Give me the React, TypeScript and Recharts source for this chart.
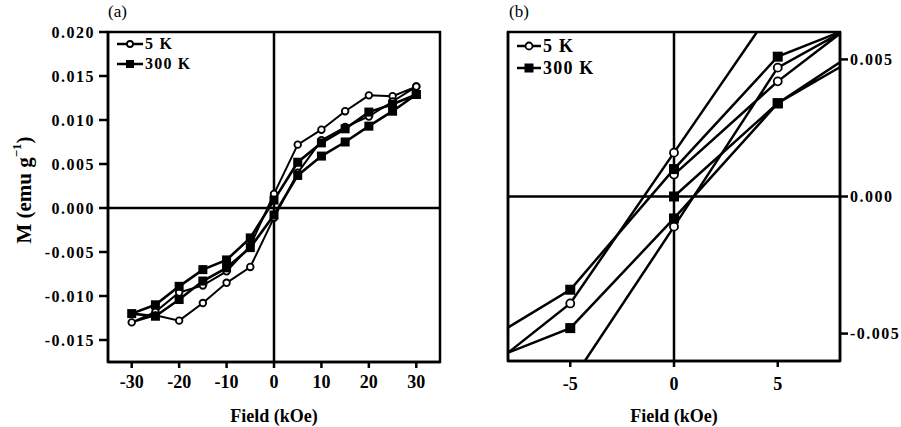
import React from "react";
import {
  LineChart,
  Line,
  XAxis,
  YAxis,
  ReferenceArea,
  ReferenceLine,
  Legend,
} from "recharts";

const FONT = '"Liberation Serif", "Times New Roman", serif';

// panel (a): full loop, field in kOe, M in emu/g
const fieldA = [30, 25, 20, 15, 10, 5, 0, -5, -10, -15, -20, -25, -30, -25, -20, -15, -10, -5, 0, 5, 10, 15, 20, 25, 30];
const m5KA = [0.0138, 0.0127, 0.0128, 0.011, 0.0089, 0.0072, 0.0016, -0.0043, -0.0072, -0.0088, -0.0096, -0.0118, -0.013, -0.0122, -0.0128, -0.0108, -0.0085, -0.0067, -0.0011, 0.004, 0.0077, 0.0092, 0.0104, 0.0121, 0.0138];
const m300KA = [0.0129, 0.0118, 0.0109, 0.009, 0.0074, 0.0052, 0.0009, -0.0034, -0.0059, -0.007, -0.0089, -0.011, -0.012, -0.0123, -0.0104, -0.0083, -0.0068, -0.0045, -0.0008, 0.0037, 0.0059, 0.0075, 0.0093, 0.011, 0.0129];
const fieldTicksA = [-30, -20, -10, 0, 10, 20, 30];
const mTicksA = [-0.015, -0.01, -0.005, 0, 0.005, 0.01, 0.015, 0.02];

// panel (b): low-field region (virgin, descending, ascending)
const field5KB = [0, 5, 10, 10, 5, 0, -5, -10, -10, -5, 0, 5, 10];
const m5KB = [0.0008, 0.0042, 0.0071, 0.009, 0.0071, 0.0016, -0.0039, -0.0069, -0.0087, -0.0068, -0.0011, 0.0047, 0.0068];
const field300KB = [0, 5, 10, 10, 5, 0, -5, -10, -10, -5, 0, 5, 10];
const m300KB = [0.0, 0.0034, 0.0059, 0.0066, 0.0051, 0.001, -0.0034, -0.0057, -0.0063, -0.0048, -0.0008, 0.0034, 0.0056];
const fieldTicksB = [-5, 0, 5];
const mTicksB = [-0.005, 0, 0.005];

const seriesNames = ["5 K", "300 K"];

const toRows = (h: number[], m: number[]) => h.map((v, i) => ({ h: v, m: m[i] }));

const circleDot = (r: number) => (p: any) =>
  p.cx == null ? null : (
    <circle key={`c-${p.index}`} cx={p.cx} cy={p.cy} r={r} fill="#fff" stroke="#000" strokeWidth={1.8} />
  );

const squareDot = (s: number) => (p: any) =>
  p.cx == null ? null : (
    <rect key={`s-${p.index}`} x={p.cx - s / 2} y={p.cy - s / 2} width={s} height={s} fill="#000" />
  );

const axisStroke = { stroke: "#000", strokeWidth: 2.5 };
const xTickStyle = { fill: "#000", fontSize: 18, fontWeight: "bold", fontFamily: FONT };
const yTickStyle = { fill: "#000", fontSize: 16, fontWeight: "bold", fontFamily: FONT, letterSpacing: 1.5 };
const xLabel = {
  value: "Field (kOe)",
  position: "insideBottom" as const,
  offset: 5,
  fill: "#000",
  fontSize: 18,
  fontWeight: "bold",
  fontFamily: FONT,
};

function YLabelA() {
  const x = 24;
  const y = 190;
  return (
    <text
      x={x}
      y={y}
      transform={`rotate(-90, ${x}, ${y})`}
      textAnchor="middle"
      dominantBaseline="central"
      fill="#000"
      fontSize={21}
      fontWeight="bold"
      fontFamily={FONT}
    >
      M (emu g
      <tspan dy={-8} fontSize={13}>−1</tspan>
      <tspan dy={8}>)</tspan>
    </text>
  );
}

function makeLegend(iconW: number, rowH: number, fontSize: number, r: number, s: number) {
  return () => (
    <div style={{ fontFamily: FONT, fontWeight: "bold", fontSize, color: "#000", letterSpacing: 1.2 }}>
      {seriesNames.map((name, i) => (
        <div key={name} style={{ display: "flex", alignItems: "center", height: rowH, whiteSpace: "nowrap" }}>
          <svg width={iconW} height={12} style={{ marginRight: 2 }}>
            <line x1={0} y1={6} x2={iconW} y2={6} stroke="#000" strokeWidth={2.5} />
            {i === 0 ? (
              <circle cx={iconW / 2} cy={6} r={r} fill="#fff" stroke="#000" strokeWidth={1.8} />
            ) : (
              <rect x={iconW / 2 - s / 2} y={6 - s / 2} width={s} height={s} fill="#000" />
            )}
          </svg>
          <span>{name}</span>
        </div>
      ))}
    </div>
  );
}

function PanelA() {
  return (
    <LineChart width={460} height={427} margin={{ top: 32, right: 20, bottom: 0, left: 0 }}>
      <XAxis
        type="number"
        dataKey="h"
        domain={[-35, 35]}
        ticks={fieldTicksA}
        height={65}
        tickSize={6}
        tickMargin={7}
        axisLine={axisStroke}
        tickLine={axisStroke}
        tick={xTickStyle}
        label={xLabel}
      />
      <YAxis
        type="number"
        domain={[-0.0175, 0.02]}
        ticks={mTicksA}
        width={108}
        tickSize={9}
        tickMargin={4}
        tickFormatter={(v: number) => v.toFixed(3)}
        axisLine={axisStroke}
        tickLine={axisStroke}
        tick={yTickStyle}
        label={<YLabelA />}
      />
      <ReferenceArea x1={-35} x2={35} y1={-0.0175} y2={0.02} fill="none" stroke="#000" strokeWidth={2.5} />
      <ReferenceLine x={0} stroke="#000" strokeWidth={2.5} />
      <ReferenceLine y={0} stroke="#000" strokeWidth={2.5} />
      <Legend
        layout="vertical"
        align="center"
        verticalAlign="middle"
        content={makeLegend(26, 20, 16, 3, 8)}
        wrapperStyle={{ left: 117, top: 34, width: "auto", height: "auto" }}
      />
      <Line
        data={toRows(fieldA, m5KA)}
        dataKey="m"
        name="5 K"
        type="linear"
        stroke="#000"
        strokeWidth={2}
        dot={circleDot(3.3)}
        activeDot={false}
        isAnimationActive={false}
      />
      <Line
        data={toRows(fieldA, m300KA)}
        dataKey="m"
        name="300 K"
        type="linear"
        stroke="#000"
        strokeWidth={2.6}
        dot={squareDot(9)}
        activeDot={false}
        isAnimationActive={false}
      />
    </LineChart>
  );
}

function PanelB() {
  return (
    <LineChart width={441} height={427} margin={{ top: 32, right: 0, bottom: 0, left: 0 }}>
      <XAxis
        type="number"
        dataKey="h"
        domain={[-8, 8]}
        ticks={fieldTicksB}
        allowDataOverflow
        height={66}
        tickSize={6}
        tickMargin={10}
        axisLine={axisStroke}
        tickLine={axisStroke}
        tick={xTickStyle}
        label={xLabel}
      />
      <YAxis
        yAxisId="left"
        orientation="left"
        type="number"
        domain={[-0.006, 0.006]}
        ticks={mTicksB}
        allowDataOverflow
        width={48}
        tickSize={8}
        tick={false}
        axisLine={axisStroke}
        tickLine={axisStroke}
      />
      <YAxis
        yAxisId="right"
        orientation="right"
        type="number"
        domain={[-0.006, 0.006]}
        ticks={mTicksB}
        allowDataOverflow
        width={61}
        tickSize={8}
        tickMargin={2}
        tickFormatter={(v: number) => v.toFixed(3)}
        axisLine={axisStroke}
        tickLine={axisStroke}
        tick={yTickStyle}
      />
      <ReferenceArea yAxisId="left" x1={-8} x2={8} y1={-0.006} y2={0.006} fill="none" stroke="#000" strokeWidth={2.5} />
      <ReferenceLine yAxisId="left" x={0} stroke="#000" strokeWidth={2.5} />
      <ReferenceLine yAxisId="left" y={0} stroke="#000" strokeWidth={2.5} />
      <Legend
        layout="vertical"
        align="center"
        verticalAlign="middle"
        content={makeLegend(24, 22, 18, 3.5, 9)}
        wrapperStyle={{ left: 57, top: 35, width: "auto", height: "auto" }}
      />
      <Line
        yAxisId="left"
        data={toRows(field5KB, m5KB)}
        dataKey="m"
        name="5 K"
        type="linear"
        stroke="#000"
        strokeWidth={2.5}
        dot={circleDot(4)}
        activeDot={false}
        isAnimationActive={false}
      />
      <Line
        yAxisId="left"
        data={toRows(field300KB, m300KB)}
        dataKey="m"
        name="300 K"
        type="linear"
        stroke="#000"
        strokeWidth={2.5}
        dot={squareDot(10)}
        activeDot={false}
        isAnimationActive={false}
      />
    </LineChart>
  );
}

export default function App() {
  return (
    <div style={{ position: "absolute", left: 0, top: 0, width: 901, height: 427, background: "#fff", fontFamily: FONT }}>
      <div style={{ position: "absolute", left: 0, top: 0 }}>
        <PanelA />
      </div>
      <div style={{ position: "absolute", left: 460, top: 0 }}>
        <PanelB />
      </div>
      <div style={{ position: "absolute", left: 108, top: 2, fontSize: 17, color: "#000" }}>(a)</div>
      <div style={{ position: "absolute", left: 509, top: 2, fontSize: 17, color: "#000" }}>(b)</div>
    </div>
  );
}
